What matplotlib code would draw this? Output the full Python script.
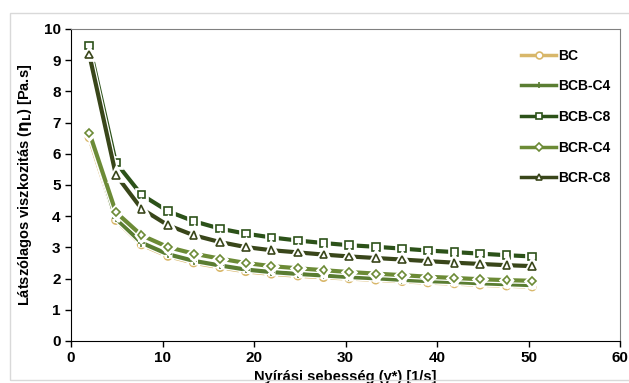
import matplotlib
matplotlib.use("Agg")
import matplotlib.pyplot as plt
import matplotlib.patches as patches
import matplotlib.patheffects as pe

plt.rcParams['font.family'] = ['Liberation Sans', 'DejaVu Sans']
plt.rcParams['font.weight'] = 'bold'

# shear rate [1/s]
shear = [2.0, 4.9, 7.7, 10.6, 13.4, 16.3, 19.1, 21.9, 24.8, 27.6,
         30.4, 33.3, 36.2, 39.0, 41.9, 44.7, 47.6, 50.4]

bc = [6.52, 3.87, 3.09, 2.72, 2.51, 2.36, 2.23, 2.15, 2.09, 2.04,
      2.00, 1.96, 1.91, 1.87, 1.84, 1.80, 1.77, 1.74]
bcb_c4 = [6.75, 3.93, 3.15, 2.78, 2.57, 2.42, 2.29, 2.21, 2.15, 2.10,
          2.05, 2.01, 1.96, 1.92, 1.89, 1.85, 1.82, 1.79]
bcb_c8 = [9.47, 5.72, 4.69, 4.16, 3.84, 3.60, 3.44, 3.32, 3.22, 3.14,
          3.07, 3.02, 2.96, 2.90, 2.85, 2.80, 2.75, 2.71]
bcr_c4 = [6.68, 4.13, 3.39, 3.01, 2.80, 2.64, 2.50, 2.40, 2.33, 2.27,
          2.21, 2.16, 2.11, 2.06, 2.02, 1.98, 1.95, 1.93]
bcr_c8 = [9.18, 5.33, 4.24, 3.71, 3.39, 3.17, 3.01, 2.91, 2.84, 2.77,
          2.71, 2.66, 2.61, 2.56, 2.51, 2.47, 2.43, 2.40]

xticks = [0, 10, 20, 30, 40, 50, 60]
yticks = [0, 1, 2, 3, 4, 5, 6, 7, 8, 9, 10]

series = [
    ("BC", bc, "#D8B76A", "o"),
    ("BCB-C4", bcb_c4, "#5A7D32", "+"),
    ("BCB-C8", bcb_c8, "#2C5219", "s"),
    ("BCR-C4", bcr_c4, "#6C8B36", "D"),
    ("BCR-C8", bcr_c8, "#39461A", "^"),
]

fig = plt.figure(figsize=(6.29, 3.83), dpi=100)
fig.patches.append(patches.Rectangle((10 / 629, 3 / 383), 1.0, 367 / 383,
                                     transform=fig.transFigure, fill=False,
                                     edgecolor="#d9d9d9", linewidth=1.0))
ax = fig.add_axes([71 / 629, 42 / 383, 549 / 629, 312 / 383])

glow = [pe.Stroke(linewidth=4.8, foreground="white"), pe.Normal()]
for name, vals, col, mk in series:
    ms = 5.5 if mk != "D" else 4.0
    ax.plot(shear, vals, color=col, linewidth=3.0, marker=mk, markersize=ms,
            markerfacecolor="white", markeredgecolor=col, markeredgewidth=1.2,
            label=name, path_effects=glow)

ax.set_xlim(0, 60)
ax.set_ylim(0, 10)
ax.set_xticks(xticks)
ax.set_xticklabels([str(v) for v in xticks], fontsize=11, fontweight="bold")
ax.set_yticks(yticks)
ax.set_yticklabels([str(v) for v in yticks], fontsize=11, fontweight="bold")
ax.tick_params(axis="both", direction="out", length=4, width=1)
ax.spines["top"].set_color("#808080")
ax.spines["right"].set_color("#808080")
ax.spines["left"].set_color("black")
ax.spines["bottom"].set_color("black")

ax.set_ylabel(r"Látszólagos viszkozitás ($\mathbf{\eta_L}$) [Pa.s]",
              fontsize=10.5, fontweight="bold", labelpad=7)
ax.set_xlabel("Nyírási sebesség (γ*) [1/s]", fontsize=10.5,
              fontweight="bold", labelpad=3)

leg = ax.legend(loc="upper left", bbox_to_anchor=(0.81, 0.955), frameon=False,
                fontsize=10, handlelength=2.5, labelspacing=1.2,
                handletextpad=0.15, borderaxespad=0, markerscale=0.9)
for t in leg.get_texts():
    t.set_fontweight("bold")
for h in leg.legend_handles:
    h.set_path_effects([])
    h.set_linewidth(2.5)

fig.savefig("out.png", dpi=100)
